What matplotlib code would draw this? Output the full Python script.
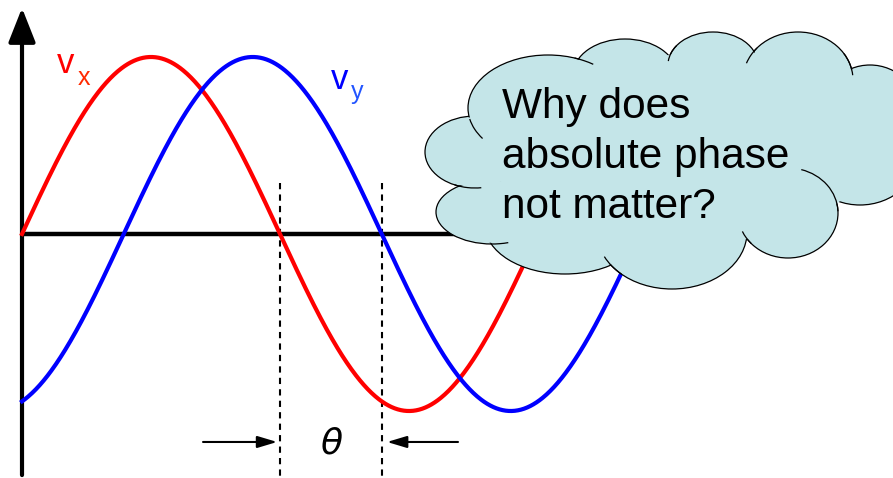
import numpy as np
import matplotlib
matplotlib.use('Agg')
import matplotlib.pyplot as plt
from matplotlib.patches import Ellipse, Arc

plt.rcParams['font.family'] = ['Liberation Sans', 'DejaVu Sans']

# wave parameters (degrees, unit amplitude)
theta_deg = 71          # phase lag of v_y behind v_x
t_start, t_end = 0, 430
axis_end = 330          # horizontal axis runs under the cloud
labels = ['v', 'x', 'v', 'y']
question = ['Why does', 'absolute phase', 'not matter?']

t = np.linspace(t_start, t_end, 800)
vx = np.sin(np.radians(t))
vy = np.sin(np.radians(t - theta_deg))

fig = plt.figure(figsize=(8.93, 4.78), dpi=100)

# wave axes: degrees horizontally, amplitude vertically
ax = fig.add_axes([0, 0, 1, 1])
ax.set_xlim(-15.35, 607.7)
ax.set_ylim(-1.3785, 1.322)
ax.axis('off')

ax.plot([0, axis_end], [0, 0], color='black', lw=3.2, solid_capstyle='butt', zorder=1)
ax.annotate('', xy=(0, 1.277), xytext=(0, -1.362),
            arrowprops=dict(arrowstyle='-|>,head_length=21,head_width=8.3', mutation_scale=1,
                            lw=3, color='black', shrinkA=0, shrinkB=0), zorder=1)
ax.plot(t, vx, color='#ff0000', lw=3, zorder=3)
ax.plot(t, vy, color='#0000ff', lw=3, zorder=3)

# dashed markers at the falling zero crossings
zx = [180, 180 + theta_deg]
for z in zx:
    ax.plot([z, z], [0.288, -1.38], color='black', lw=1.5, dashes=(3, 2.5), zorder=2)

ya = -1.175
ax.annotate('', xy=(zx[0] - 2, ya), xytext=(zx[0] - 53.7, ya),
            arrowprops=dict(arrowstyle='-|>,head_length=12,head_width=3.6', mutation_scale=1,
                            lw=1.5, color='black', shrinkA=0, shrinkB=0))
ax.annotate('', xy=(zx[1] + 3.7, ya), xytext=(zx[1] + 53.2, ya),
            arrowprops=dict(arrowstyle='-|>,head_length=12,head_width=3.6', mutation_scale=1,
                            lw=1.5, color='black', shrinkA=0, shrinkB=0))
ax.text((zx[0] + zx[1]) / 2, ya - 0.01, 'θ', fontsize=26, style='italic',
        family='DejaVu Sans', ha='center', va='center')

# overlay in pixel units for labels and the thought cloud
ov = fig.add_axes([0, 0, 1, 1], zorder=5)
ov.set_xlim(0, 893)
ov.set_ylim(478, 0)
ov.axis('off')
ov.patch.set_alpha(0)

ov.text(57, 73, labels[0], color='#ff0000', fontsize=25, ha='left', va='baseline')
ov.text(78, 85, labels[1], color='#ff2a00', fontsize=18, ha='left', va='baseline')
ov.text(331, 89, labels[2], color='#0000ff', fontsize=25, ha='left', va='baseline')
ov.text(351, 99, labels[3], color='#2255ff', fontsize=18, ha='left', va='baseline')

cloud_color = '#c4e5e8'
lobes = [(475, 152, 50, 36), (492, 212, 56, 32), (565, 225, 80, 49),
         (672, 232, 75, 57), (788, 213, 50, 45), (860, 150, 60, 55),
         (870, 115, 50, 50), (798, 80, 55, 48), (713, 65, 45, 33),
         (625, 75, 52, 36), (548, 108, 80, 53)]
for cx, cy, rx, ry in lobes:
    ov.add_patch(Ellipse((cx, cy), 2 * rx, 2 * ry, fc=cloud_color, ec='black', lw=0.9, zorder=1))
for cx, cy, rx, ry in lobes:
    ov.add_patch(Ellipse((cx, cy), 2 * rx - 2.5, 2 * ry - 2.5, fc=cloud_color, ec='none', zorder=2))
ov.add_patch(Ellipse((680, 150), 380, 190, fc=cloud_color, ec='none', zorder=2))

# short inner arcs where lobes overlap
tails = [(10, 155, 172), (0, 80, 122), (1, 62, 92), (3, 140, 160),
         (4, 140, 158), (4, 287, 358), (7, 330, 355), (7, 198, 218),
         (8, 185, 208), (10, 298, 316)]
for i, a1, a2 in tails:
    cx, cy, rx, ry = lobes[i]
    ov.add_patch(Arc((cx, cy), 2 * rx, 2 * ry, theta1=a1, theta2=a2, color='black', lw=0.9, zorder=2.5))

for i, line in enumerate(question):
    ov.text(502, 118 + 50 * i, line, fontsize=30.5, ha='left', va='baseline', zorder=3)

fig.savefig('out.png', dpi=100)
